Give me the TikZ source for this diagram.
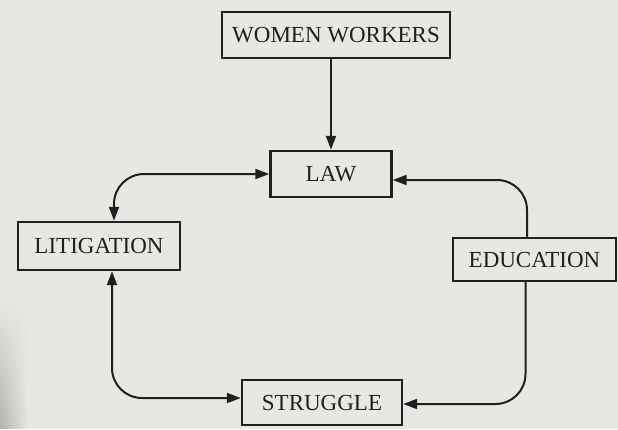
\documentclass[tikz,border=0pt]{standalone}
\usepackage{fontspec}
\setmainfont{Liberation Serif}
\usetikzlibrary{arrows.meta,fadings}
\definecolor{paper}{RGB}{231,231,228}
\definecolor{paperdark}{RGB}{178,178,175}
\definecolor{ink}{RGB}{32,32,32}
\begin{document}
\begin{tikzpicture}[x=1pt,y=-1pt,
  box/.style={draw=ink, line width=2.4pt, inner sep=0pt, text=ink,
    font=\fontsize{23}{27}\selectfont},
  link/.style={draw=ink, line width=2pt, rounded corners=30pt},
  tip/.tip={Triangle[length=14pt,width=10pt]}]
  % page
  \useasboundingbox (0,0) rectangle (618,429);
  \fill[paper] (0,0) rectangle (618,429);
  \shade[left color=paperdark, right color=paper, path fading=north]
    (0,300) rectangle (28,429);

  % boxes
  \node[box, minimum width=228pt, minimum height=46pt] (ww)  at (336,35)    {WOMEN WORKERS};
  \node[box, minimum width=121pt, minimum height=46pt] (law) at (331,174)   {LAW};
  \node[box, minimum width=162pt, minimum height=48pt] (lit) at (99,246)    {LITIGATION};
  \node[box, minimum width=163pt, minimum height=43pt] (edu) at (534.5,259.5) {EDUCATION};
  \node[box, minimum width=160pt, minimum height=45pt] (str) at (322,402.5) {STRUGGLE};

  % connectors
  \draw[link, -tip] (law.north |- ww.south) -- (law.north);
  \draw[link, tip-tip] (law.west) -| ([xshift=15pt]lit.north);
  \draw[link, tip-] ([yshift=-6pt]law.east) -| ([xshift=-7.5pt]edu.north);
  \draw[link, -tip] ([xshift=-9pt]edu.south) |- ([yshift=-1.5pt]str.east);
  \draw[link, tip-tip] ([xshift=13pt]lit.south) |- ([yshift=4.5pt]str.west);
\end{tikzpicture}
\end{document}
